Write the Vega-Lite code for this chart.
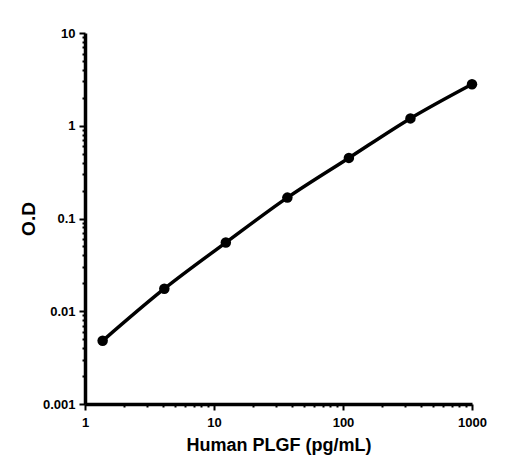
{
  "$schema": "https://vega.github.io/schema/vega-lite/v6.json",
  "width": 387,
  "height": 371,
  "autosize": "none",
  "padding": {"left": 85, "top": 33, "right": 34, "bottom": 72},
  "background": "white",
  "config": {
    "view": {"stroke": null},
    "axis": {
      "domainColor": "black",
      "domainWidth": 3.5,
      "tickColor": "black",
      "tickWidth": 2,
      "labelColor": "black",
      "labelFont": "Liberation Sans",
      "labelFontWeight": "bold",
      "labelFontSize": 13,
      "labelOverlap": false,
      "labelFlush": false,
      "titleColor": "black",
      "titleFont": "Liberation Sans",
      "titleFontWeight": "bold",
      "grid": false
    }
  },
  "data": {
    "values": [
      {"conc": 1.37, "od": 0.0048},
      {"conc": 4.12, "od": 0.0175},
      {"conc": 12.35, "od": 0.055},
      {"conc": 37.04, "od": 0.168},
      {"conc": 111.1, "od": 0.45},
      {"conc": 333.3, "od": 1.2},
      {"conc": 1000, "od": 2.8}
    ]
  },
  "encoding": {
    "x": {
      "field": "conc",
      "type": "quantitative",
      "title": "Human PLGF (pg/mL)",
      "scale": {"type": "log", "domain": [1, 1000], "nice": false},
      "axis": {
        "values": [1,2,3,4,5,6,7,8,9,10,20,30,40,50,60,70,80,90,100,200,300,400,500,600,700,800,900,1000],
        "labelExpr": "abs(log(datum.value)/LN10 - round(log(datum.value)/LN10)) < 1e-6 ? toString(datum.value) : ''",
        "tickSize": {"condition": {"test": "abs(log(datum.value)/LN10 - round(log(datum.value)/LN10)) < 1e-6", "value": 6}, "value": 3},
        "labelPadding": 6,
        "titleFontSize": 18,
        "titlePadding": 7
      }
    },
    "y": {
      "field": "od",
      "type": "quantitative",
      "title": "O.D",
      "scale": {"type": "log", "domain": [0.001, 10], "nice": false},
      "axis": {
        "values": [0.001,0.002,0.003,0.004,0.005,0.006,0.007,0.008,0.009,0.01,0.02,0.03,0.04,0.05,0.06,0.07,0.08,0.09,0.1,0.2,0.3,0.4,0.5,0.6,0.7,0.8,0.9,1,2,3,4,5,6,7,8,9,10],
        "labelExpr": "abs(log(datum.value)/LN10 - round(log(datum.value)/LN10)) < 1e-6 ? toString(datum.value) : ''",
        "tickSize": {"condition": {"test": "abs(log(datum.value)/LN10 - round(log(datum.value)/LN10)) < 1e-6", "value": 6}, "value": 3},
        "labelPadding": 4,
        "titleFontSize": 19,
        "titlePadding": 4
      }
    }
  },
  "layer": [
    {
      "mark": {"type": "line", "color": "black", "strokeWidth": 3.5, "interpolate": "monotone"}
    },
    {
      "mark": {"type": "point", "filled": true, "color": "black", "opacity": 1, "size": 110}
    }
  ]
}
